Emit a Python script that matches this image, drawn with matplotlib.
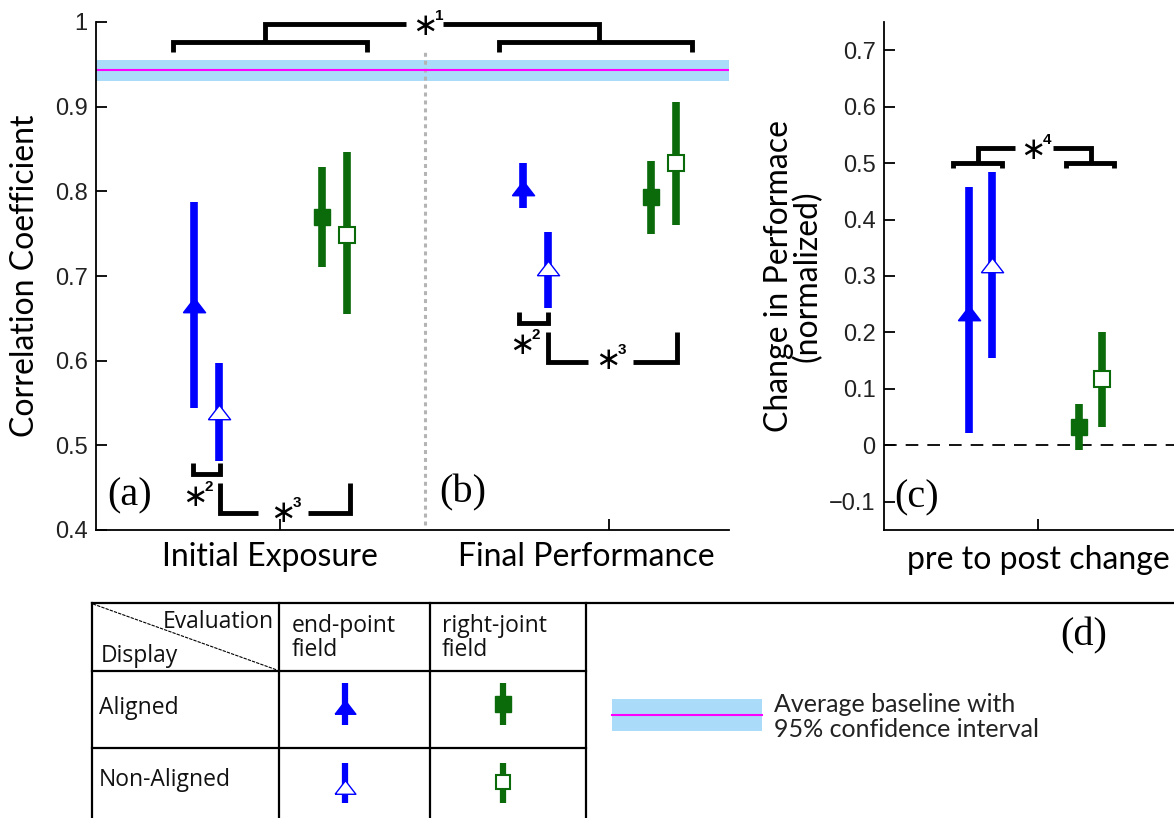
import matplotlib
matplotlib.use('Agg')
import matplotlib.pyplot as plt

# ---------------------------------------------------------------------------
# data
conditions = ['Initial Exposure', 'Final Performance']

# correlation coefficient, panels (a) and (b): mean, lower, upper
ep_al_mean = [0.666, 0.804]
ep_al_lo = [0.544, 0.780]
ep_al_hi = [0.787, 0.834]

ep_na_mean = [0.539, 0.709]
ep_na_lo = [0.481, 0.662]
ep_na_hi = [0.597, 0.752]

rj_al_mean = [0.770, 0.793]
rj_al_lo = [0.711, 0.750]
rj_al_hi = [0.829, 0.836]

rj_na_mean = [0.748, 0.834]
rj_na_lo = [0.655, 0.760]
rj_na_hi = [0.846, 0.905]

# average baseline with 95% CI
baseline_mean = 0.943
baseline_lo = 0.930
baseline_hi = 0.955

# change in performance, panel (c): ep_al, ep_na, rj_al, rj_na
change_mean = [0.234, 0.320, 0.032, 0.117]
change_lo = [0.021, 0.154, -0.009, 0.032]
change_hi = [0.457, 0.484, 0.074, 0.200]

BLUE = '#0000ff'
GREEN = '#0b6b0b'
BAND = '#aadcfa'
MAGENTA = '#ff00ff'

TRI = [(-1, -0.65), (1, -0.65), (0, 0.65), (-1, -0.65)]
offsets = [-0.26, -0.185, 0.128, 0.204]
styles = [
    dict(color=BLUE, marker=TRI, ms=16, mfc=BLUE, mec=BLUE, mew=1),
    dict(color=BLUE, marker=TRI, ms=16, mfc='white', mec=BLUE, mew=1),
    dict(color=GREEN, marker='s', ms=12, mfc=GREEN, mec=GREEN, mew=1),
    dict(color=GREEN, marker='s', ms=11, mfc='white', mec=GREEN, mew=1.5),
]

plt.rcParams['font.family'] = ['Lato', 'DejaVu Sans']
W, H = 1174, 818
fig = plt.figure(figsize=(W / 100, H / 100), dpi=100)


def errpoint(ax, x, m, lo, hi, st):
    ax.plot([x, x], [lo, hi], color=st['color'], lw=5.5, solid_capstyle='butt', zorder=3)
    ax.plot([x], [m], linestyle='none', marker=st['marker'], ms=st['ms'],
            mfc=st['mfc'], mec=st['mec'], mew=st['mew'], zorder=4)


def bracket(ax, pts):
    xs, ys = zip(*pts)
    ax.plot(xs, ys, color='black', lw=3.5, clip_on=False, zorder=5,
            solid_joinstyle='miter', solid_capstyle='butt')


def star(ax, x, y, n):
    ax.text(x, y, '\u2217', fontsize=22, ha='center', va='center',
            family='DejaVu Sans', zorder=6)
    ax.annotate(str(n), (x, y), xytext=(7, 7.5), textcoords='offset points',
                fontsize=11, fontweight='bold', ha='left', va='center',
                family='Liberation Sans')


def style_axes(ax):
    for s in ['top', 'right']:
        ax.spines[s].set_visible(False)
    for s in ['left', 'bottom']:
        ax.spines[s].set_linewidth(1.3)
    ax.tick_params(direction='in', length=8, width=1.3)
    ax.tick_params(axis='y', labelsize=17, pad=6)
    for lab in ax.get_yticklabels():
        lab.set_family('Liberation Sans')
        lab.set_color('#222222')


# ---------------------------------------------------------------------------
# panels (a) and (b)
ax = fig.add_axes([96 / W, 1 - 530 / H, (729 - 96) / W, (530 - 22) / H])
ax.set_xlim(0.4407, 2.3647)
ax.set_ylim(0.4, 1.0)
ax.set_yticks([0.4, 0.5, 0.6, 0.7, 0.8, 0.9, 1.0])
ax.set_yticklabels(['0.4', '0.5', '0.6', '0.7', '0.8', '0.9', '1'])
ax.set_xticks([1, 2])
ax.set_xticklabels(['', ''])
style_axes(ax)
# category labels sit a little left of their ticks in the original
for i, (name, dx) in enumerate(zip(conditions, [-0.030, -0.070])):
    ax.text(i + 1 + dx, -0.053, name, fontsize=23, ha='center', va='center',
            transform=ax.get_xaxis_transform())
ax.set_ylabel('Correlation Coefficient', fontsize=23)
ax.yaxis.set_label_coords(-0.088, 0.5)

ax.axhspan(baseline_lo, baseline_hi, color=BAND, lw=0, zorder=1)
ax.axhline(baseline_mean, color=MAGENTA, lw=1.5, zorder=2)
ax.plot([1.441, 1.441], [0.406, 0.967], color='#b4b4b4', lw=2.2,
        linestyle=(0, (1.3, 1.3)), zorder=1)

series = [(ep_al_mean, ep_al_lo, ep_al_hi), (ep_na_mean, ep_na_lo, ep_na_hi),
          (rj_al_mean, rj_al_lo, rj_al_hi), (rj_na_mean, rj_na_lo, rj_na_hi)]
for (m, lo, hi), off, st in zip(series, offsets, styles):
    for i in range(len(conditions)):
        errpoint(ax, i + 1 + off, m[i], lo[i], hi[i], st)

# significance brackets
bracket(ax, [(0.675, 0.964), (0.675, 0.976), (1.264, 0.976), (1.264, 0.964)])
bracket(ax, [(0.954, 0.976), (0.954, 0.998), (1.383, 0.998)])
bracket(ax, [(1.667, 0.964), (1.667, 0.976), (2.252, 0.976), (2.252, 0.964)])
bracket(ax, [(1.970, 0.976), (1.970, 0.998), (1.495, 0.998)])
star(ax, 1.441, 0.995, 1)

bracket(ax, [(0.736, 0.479), (0.736, 0.466), (0.818, 0.466), (0.818, 0.479)])
bracket(ax, [(0.818, 0.455), (0.818, 0.420), (0.934, 0.420)])
bracket(ax, [(1.085, 0.420), (1.213, 0.420), (1.213, 0.455)])
star(ax, 0.742, 0.438, 2)
star(ax, 1.009, 0.419, 3)

bracket(ax, [(1.726, 0.657), (1.726, 0.644), (1.815, 0.644), (1.815, 0.657)])
bracket(ax, [(1.815, 0.634), (1.815, 0.598), (1.936, 0.598)])
bracket(ax, [(2.073, 0.598), (2.207, 0.598), (2.207, 0.634)])
star(ax, 1.736, 0.618, 2)
star(ax, 1.997, 0.600, 3)

ax.text(0.544, 0.440, '(a)', fontsize=29, family='Liberation Serif', ha='center', va='center')
ax.text(1.556, 0.444, '(b)', fontsize=29, family='Liberation Serif', ha='center', va='center')

# ---------------------------------------------------------------------------
# panel (c)
ax2 = fig.add_axes([884 / W, 1 - 530 / H, 308 / W, (530 - 22) / H])
ax2.set_xlim(0.5, 1.5)
ax2.set_ylim(-0.15, 0.75)
ax2.set_yticks([-0.1, 0, 0.1, 0.2, 0.3, 0.4, 0.5, 0.6, 0.7])
ax2.set_yticklabels(['\u22120.1', '0', '0.1', '0.2', '0.3', '0.4', '0.5', '0.6', '0.7'])
ax2.set_xticks([1])
ax2.set_xticklabels(['pre to post change'], fontsize=23)
ax2.tick_params(axis='x', pad=11)
style_axes(ax2)
ax2.set_ylabel('Change in Performace\n(normalized)', fontsize=23, linespacing=0.9)
ax2.yaxis.set_label_coords(-0.2, 0.5)

ax2.axhline(0, color='black', lw=1.3, linestyle=(0, (7, 5)), zorder=1)
for m, lo, hi, off, st in zip(change_mean, change_lo, change_hi, [-0.224, -0.149, 0.133, 0.208], styles):
    errpoint(ax2, 1 + off, m, lo, hi, st)

bracket(ax2, [(0.724, 0.491), (0.724, 0.5), (0.883, 0.5), (0.883, 0.491)])
bracket(ax2, [(0.805, 0.5), (0.805, 0.526), (0.925, 0.526)])
bracket(ax2, [(1.091, 0.491), (1.091, 0.5), (1.247, 0.5), (1.247, 0.491)])
bracket(ax2, [(1.172, 0.5), (1.172, 0.526), (1.049, 0.526)])
star(ax2, 0.984, 0.522, 4)
ax2.text(0.607, -0.093, '(c)', fontsize=29, family='Liberation Serif', ha='center', va='center')

# ---------------------------------------------------------------------------
# (d) legend table, drawn in pixel coordinates
ov = fig.add_axes([0, 0, 1, 1], zorder=-1)
ov.set_xlim(0, W)
ov.set_ylim(H, 0)
ov.axis('off')

lk = dict(color='black', lw=1.6)
ov.plot([92, W], [603, 603], **lk)
ov.plot([92, 586], [671, 671], **lk)
ov.plot([92, 586], [748, 748], **lk)
for xv in [92, 279, 430, 586]:
    ov.plot([xv, xv], [603, H], **lk)
ov.plot([93, 277], [604, 670], color='black', lw=0.8, linestyle=(0, (3, 1)))

tk = dict(fontsize=16.5, family=['Open Sans', 'DejaVu Sans'], color='#111111')
ov.text(274, 622, 'Evaluation', ha='right', va='center', **tk)
ov.text(101, 656, 'Display', ha='left', va='center', **tk)
ov.text(292, 638, 'end-point\nfield', ha='left', va='center', linespacing=0.95, **tk)
ov.text(442, 638, 'right-joint\nfield', ha='left', va='center', linespacing=0.95, **tk)
ov.text(99, 708, 'Aligned', ha='left', va='center', **tk)
ov.text(99, 780, 'Non-Aligned', ha='left', va='center', **tk)

icons = [(345, 683, 725, 707), (345, 763, 803, 787), (503, 683, 725, 704), (503, 763, 803, 782)]
icon_ms = [15, 15, 11, 10]
for (xi, y0, y1, ym), st, ms in zip(icons, styles, icon_ms):
    ov.plot([xi, xi], [y0, y1], color=st['color'], lw=4.5, solid_capstyle='butt')
    ov.plot([xi], [ym], linestyle='none', marker=st['marker'], ms=ms,
            mfc=st['mfc'], mec=st['mec'], mew=st['mew'])

ov.fill_between([612, 762], 699, 731, color=BAND, lw=0)
ov.plot([612, 762], [715, 715], color=MAGENTA, lw=1.5)
ov.text(774, 717, 'Average baseline with\n95% confidence interval', ha='left', va='center',
        fontsize=18, linespacing=1.15, color='#222222')
ov.text(1060, 636, '(d)', fontsize=29, family='Liberation Serif', ha='left', va='center')

fig.savefig('out.png', dpi=100)
